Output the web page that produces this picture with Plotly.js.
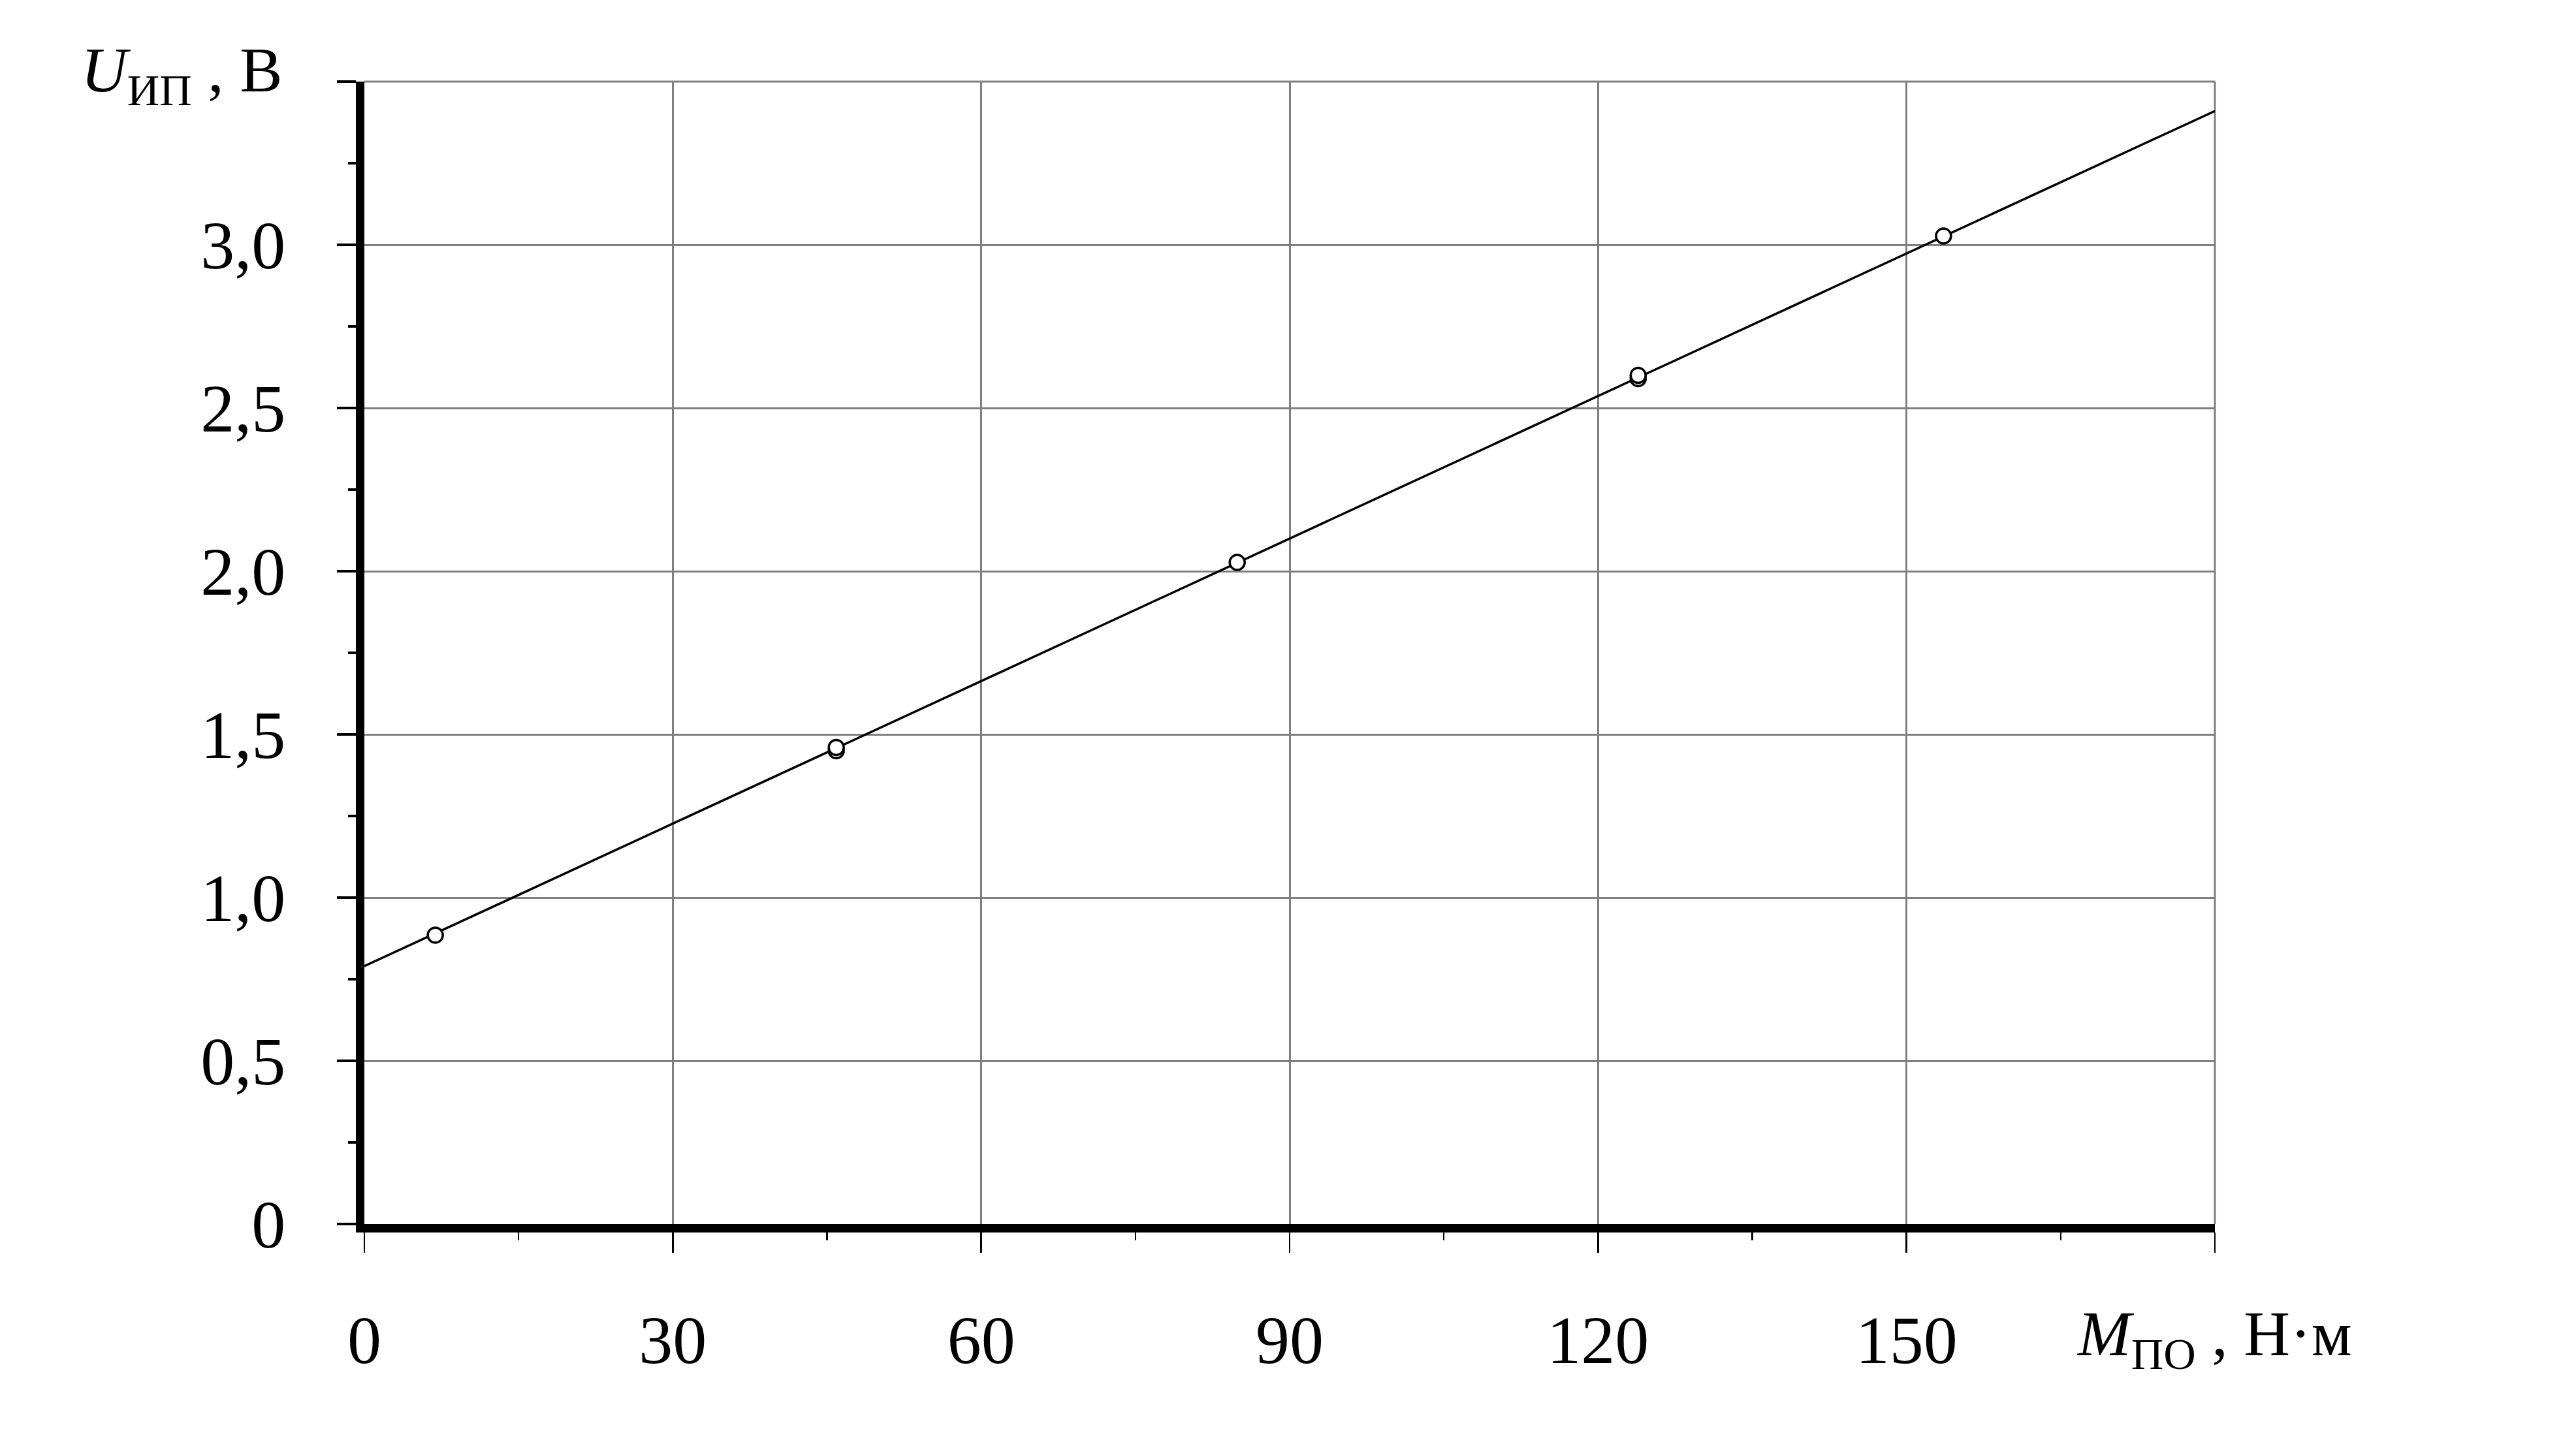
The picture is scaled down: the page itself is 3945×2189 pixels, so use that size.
<!DOCTYPE html>
<html>
<head>
<meta charset="utf-8">
<script src="https://cdn.plot.ly/plotly-3.0.1.min.js"></script>
<style>html,body{margin:0;padding:0;background:#fff;}#chart{width:3945px;height:2189px;}</style>
</head>
<body>
<div id="chart"></div>
<script>
// Measured points: torque M_PO (N·m) vs voltage U_IP (V)
const torque = [6.9, 45.9, 45.9, 84.9, 123.9, 123.9, 153.6];
const voltage = [0.885, 1.45, 1.46, 2.027, 2.59, 2.60, 3.027];
// Linear fit line
const fitTorque = [0, 180];
const fitVoltage = [0.79, 3.41];
// Axis ticks
const xTickVals = [0, 30, 60, 90, 120, 150, 180];
const xTickText = ['0', '30', '60', '90', '120', '150', ''];
const xMinorVals = [15, 45, 75, 105, 135, 165];
const yTickVals = [0, 0.5, 1.0, 1.5, 2.0, 2.5, 3.0, 3.5];
const yTickText = ['0', '0,5', '1,0', '1,5', '2,0', '2,5', '3,0', ''];
const yMinorVals = [0.25, 0.75, 1.25, 1.75, 2.25, 2.75, 3.25];

const FONT = 'Liberation Serif, Times New Roman, serif';

const traces = [
  {x: fitTorque, y: fitVoltage, mode: 'lines', type: 'scatter',
   line: {color: '#000', width: 3.5}, hoverinfo: 'skip', showlegend: false, cliponaxis: true},
  {x: torque, y: voltage, mode: 'markers', type: 'scatter',
   marker: {symbol: 'circle', size: 23, color: '#fff', line: {color: '#000', width: 3.5}},
   showlegend: false, cliponaxis: false}
];

const layout = {
  width: 3945, height: 2189,
  margin: {l: 558, r: 553, t: 125, b: 314, pad: 0},
  paper_bgcolor: '#fff', plot_bgcolor: '#fff',
  showlegend: false,
  font: {family: FONT, size: 104, color: '#000'},
  xaxis: {
    range: [0, 180], tickmode: 'array', tickvals: xTickVals, ticktext: xTickText,
    ticks: 'outside', ticklen: 31, tickwidth: 2.5, tickcolor: '#000',
    showline: true, linecolor: '#000', linewidth: 13,
    showgrid: true, gridcolor: '#808080', gridwidth: 3,
    zeroline: false, ticklabelstandoff: 44,
    tickfont: {family: FONT, size: 104, color: '#000'},
    minor: {tickvals: xMinorVals, ticks: 'outside', ticklen: 12, tickwidth: 2.5, tickcolor: '#000', showgrid: false},
    fixedrange: true
  },
  yaxis: {
    range: [0, 3.5], tickmode: 'array', tickvals: yTickVals, ticktext: yTickText,
    ticks: 'outside', ticklen: 29, tickwidth: 3.5, tickcolor: '#000',
    showline: true, linecolor: '#000', linewidth: 13,
    showgrid: true, gridcolor: '#808080', gridwidth: 3,
    zeroline: false, ticklabelstandoff: 58,
    tickfont: {family: FONT, size: 104, color: '#000'},
    minor: {tickvals: yMinorVals, ticks: 'outside', ticklen: 12, tickwidth: 3.5, tickcolor: '#000', showgrid: false},
    fixedrange: true
  },
  shapes: [
    {type: 'line', xref: 'paper', yref: 'paper', x0: 0, x1: 1, y0: 1, y1: 1, line: {color: '#808080', width: 3}, layer: 'below'},
    {type: 'line', xref: 'paper', yref: 'paper', x0: 1, x1: 1, y0: 0, y1: 1, line: {color: '#808080', width: 3}, layer: 'below'}
  ],
  annotations: [
    {text: '<i>U</i><sub>ИП</sub> , В', xref: 'paper', yref: 'paper', x: -0.154, y: 1.006, xanchor: 'left', yanchor: 'middle',
     showarrow: false, font: {family: FONT, size: 98, color: '#000'}},
    {text: '<i>M</i><sub>ПО</sub> , Н·м', xref: 'paper', yref: 'paper', x: 0.9246, y: -0.1, xanchor: 'left', yanchor: 'middle',
     showarrow: false, font: {family: FONT, size: 98, color: '#000'}}
  ]
};

Plotly.newPlot('chart', traces, layout, {displayModeBar: false, staticPlot: true});
</script>
</body>
</html>
